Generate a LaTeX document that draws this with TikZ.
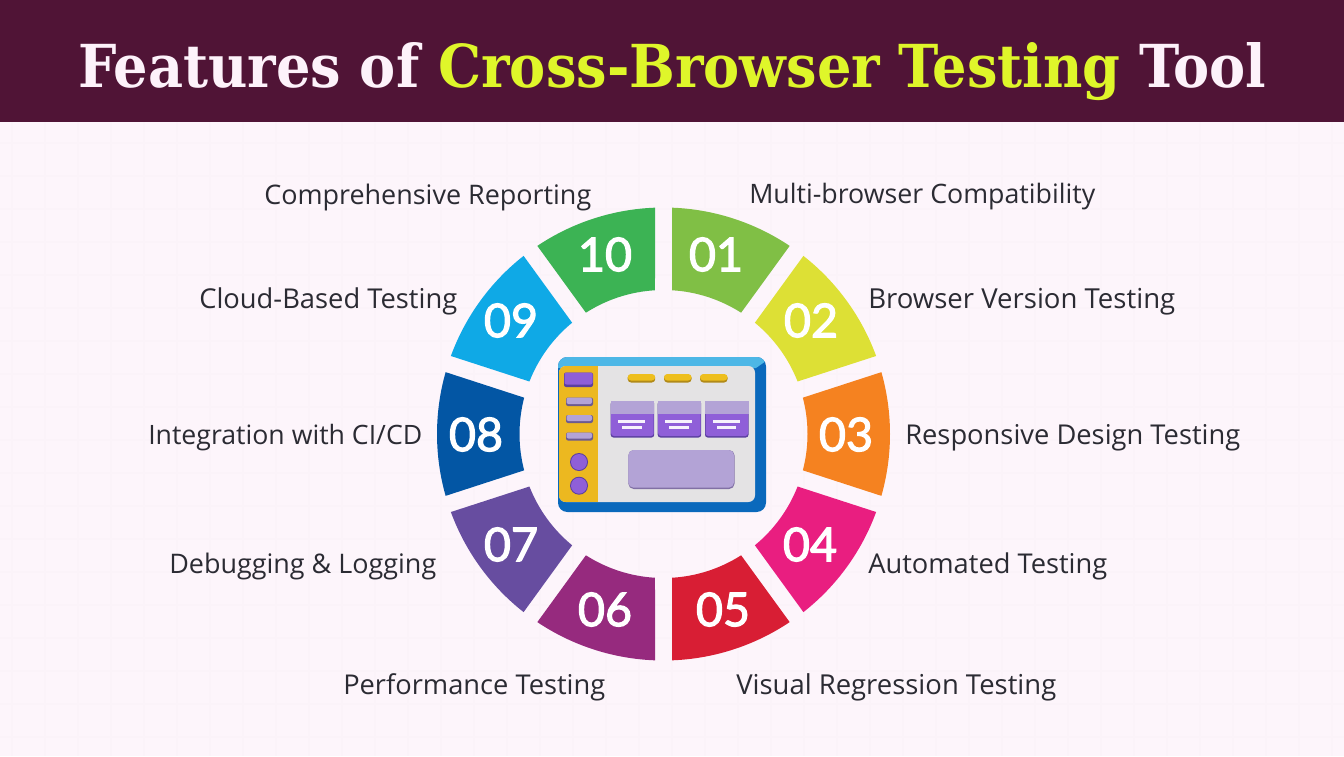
\documentclass[tikz,border=0pt]{standalone}
\usepackage{fontspec}
\usepackage{graphicx}
\setmainfont{Open Sans}
\newfontfamily\titlefont{DejaVu Serif}
\newfontfamily\numfont{Lato}[FakeBold=2.4]
\newlength{\pxl}\setlength{\pxl}{0.75pt}
\definecolor{bandc}{HTML}{501436}
\definecolor{bgc}{HTML}{FDF5FB}
\definecolor{gridc}{HTML}{FBF3F9}
\definecolor{limec}{HTML}{DFF62A}
\definecolor{titlew}{HTML}{FDF2FA}
\definecolor{textc}{HTML}{2B2B33}
\definecolor{c01}{HTML}{80BF45}
\definecolor{c02}{HTML}{DDE035}
\definecolor{c03}{HTML}{F58220}
\definecolor{c04}{HTML}{E91E80}
\definecolor{c05}{HTML}{D81E34}
\definecolor{c06}{HTML}{962A7E}
\definecolor{c07}{HTML}{674DA0}
\definecolor{c08}{HTML}{0356A4}
\definecolor{c09}{HTML}{0FA9E6}
\definecolor{c10}{HTML}{3CB354}
\definecolor{frameblue}{HTML}{0A69BC}
\definecolor{framelight}{HTML}{4DB7E6}
\definecolor{screenc}{HTML}{E4E3E4}
\definecolor{sidec}{HTML}{ECB820}
\definecolor{purplec}{HTML}{8F5FD8}
\definecolor{purplesh}{HTML}{5B3FA0}
\definecolor{lilacc}{HTML}{B3A3D6}
\definecolor{lilacsh}{HTML}{6B5A90}
\tikzset{
  numlabel/.style={font=\numfont\fontsize{35}{40}\selectfont,text=white,inner sep=0pt,anchor=center},
  featlabel/.style={text=textc,inner sep=0pt},
  gridline/.style={gridc,line width=0.8pt},
}
\newcommand{\fitw}[2]{\resizebox{#1\pxl}{!}{\fontsize{18.5}{22}\selectfont\strut #2}}
\newcommand{\wedgeseg}[2]{%
  \pgfmathsetmacro{\aoa}{#1-18+2.15}\pgfmathsetmacro{\aob}{#1+18-2.15}%
  \pgfmathsetmacro{\aia}{#1-18+3.39}\pgfmathsetmacro{\aib}{#1+18-3.39}%
  \fill[#2] (\aoa:226.5) arc[start angle=\aoa,end angle=\aob,radius=226.5] -- (\aib:144) arc[start angle=\aib,end angle=\aia,radius=144] -- cycle;}
\begin{document}
\begin{tikzpicture}[x=0.75pt,y=-0.75pt]
\useasboundingbox (0,0) rectangle (1344,756);
\fill[bgc] (0,0) rectangle (1344,756);
\foreach \g in {12,45,...,1344} \draw[gridline] (\g,122) -- (\g,756);
\foreach \g in {143,176,...,756} \draw[gridline] (0,\g) -- (1344,\g);
\fill[bandc] (0,0) rectangle (1344,122);
\node[inner sep=0pt,anchor=base west] (title) at (78,88)
  {\resizebox{1188\pxl}{45\pxl}{\titlefont\bfseries\color{titlew}Features of {\color{limec}Cross-Browser Testing} Tool}};
\begin{scope}[shift={(663.5,434)},y=0.75pt]
\foreach \ang/\col in {72/c01,36/c02,0/c03,-36/c04,-72/c05,-108/c06,-144/c07,180/c08,144/c09,108/c10}{\wedgeseg{\ang}{\col}}
\end{scope}
\node[numlabel] (n01) at (716,254.5) {01};
\node[numlabel] (n02) at (811,320.5) {02};
\node[numlabel] (n03) at (846,434.5) {03};
\node[numlabel] (n04) at (810,544.5) {04};
\node[numlabel] (n05) at (723,609.5) {05};
\node[numlabel] (n06) at (605,609.5) {06};
\node[numlabel] (n07) at (511,544.5) {07};
\node[numlabel] (n08) at (476,434.5) {08};
\node[numlabel] (n09) at (511,320.5) {09};
\node[numlabel] (n10) at (605,254.5) {10};
\node[featlabel,anchor=base west] (l01) at (749,204) {\fitw{346}{Multi-browser Compatibility}};
\node[featlabel,anchor=base west] (l02) at (868,308) {\fitw{307}{Browser Version Testing}};
\node[featlabel,anchor=base west] (l03) at (905,444) {\fitw{335}{Responsive Design Testing}};
\node[featlabel,anchor=base west] (l04) at (868,573) {\fitw{239}{Automated Testing}};
\node[featlabel,anchor=base west] (l05) at (736,694) {\fitw{320}{Visual Regression Testing}};
\node[featlabel,anchor=base west] (l06) at (343,694) {\fitw{262}{Performance Testing}};
\node[featlabel,anchor=base west] (l07) at (169,573) {\fitw{267}{Debugging \& Logging}};
\node[featlabel,anchor=base west] (l08) at (148,444) {\fitw{274}{Integration with CI/CD}};
\node[featlabel,anchor=base west] (l09) at (199,308) {\fitw{258}{Cloud-Based Testing}};
\node[featlabel,anchor=base west] (l10) at (264,204) {\fitw{327}{Comprehensive Reporting}};
% icon
\fill[frameblue,rounded corners=7pt] (558,357) rectangle (766,512);
\begin{scope}
\clip[rounded corners=7pt] (558,357) rectangle (766,512);
\fill[framelight] (558,357) -- (766,357) -- (766,361) -- (756,368) -- (558,368) -- cycle;
\end{scope}
\fill[screenc,rounded corners=5pt] (559,366) rectangle (755,502);
\begin{scope}
\clip[rounded corners=5pt] (559,366) rectangle (755,502);
\fill[sidec] (559,366) rectangle (598,502);
\end{scope}
\fill[purplesh,rounded corners=1.5pt] (564,372.5) rectangle (593,387);
\fill[purplec,rounded corners=1.5pt] (564.5,372.5) rectangle (592.5,384.5);
\foreach \ya/\yb in {397.5/404,415/421,432.5/438.5}{
  \fill[lilacsh,rounded corners=1.5pt] (566,\ya) rectangle (593,\yb+2);
  \fill[lilacc,rounded corners=1.5pt] (566.5,\ya) rectangle (592,\yb);
}
\foreach \cy in {462,485.7}{
  \fill[purplesh] (579,\cy) circle[radius=9];
  \fill[purplec] (579,\cy) circle[radius=8];
}
\foreach \xa in {627.7,664,700}{
  \fill[sidec!75!black,rounded corners=2.5pt] (\xa,374.5) rectangle (\xa+27.5,382.5);
  \fill[sidec!90!yellow,rounded corners=2.5pt] (\xa,374) rectangle (\xa+27.5,380.5);
}
\foreach \xa in {610.7,657.7,705}{
  \fill[purplesh,rounded corners=2pt] (\xa,401) rectangle (\xa+43.5,437.5);
  \fill[purplec,rounded corners=2pt] (\xa+0.5,410) rectangle (\xa+43,436);
  \fill[lilacc] (\xa,401) rectangle (\xa+43.5,414.3);
  \fill[white!92!purplec] (\xa+7.5,420) rectangle (\xa+34.5,423);
  \fill[white!92!purplec] (\xa+11.5,425.7) rectangle (\xa+31,428.7);
}
\fill[lilacsh!70!lilacc,rounded corners=4pt] (628.3,450) rectangle (734.5,489);
\fill[lilacc,rounded corners=4pt] (628.3,450) rectangle (734,487.7);
\end{tikzpicture}
\end{document}
